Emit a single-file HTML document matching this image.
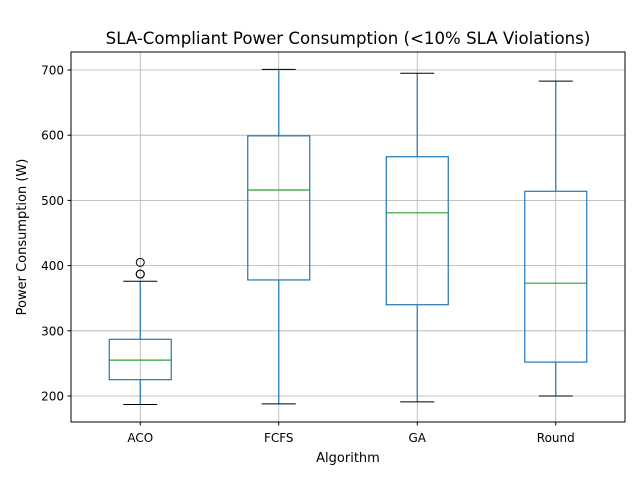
<!DOCTYPE html>
<html><head><meta charset="utf-8"><style>
body{margin:0;background:#fff;}
svg text{font-family:"DejaVu Sans","Liberation Sans",sans-serif;}
</style></head><body>
<svg id="chart" width="640" height="480" xmlns="http://www.w3.org/2000/svg">
<rect width="640" height="480" fill="#fff"/>
<text x="348" y="44" font-size="16.6" text-anchor="middle">SLA-Compliant Power Consumption (&lt;10% SLA Violations)</text>
<g id="grid"></g>
<g id="boxes"></g>
<rect x="71" y="52" width="554" height="370" fill="none" stroke="#000" stroke-width="1"/>
<g id="axes"></g>
<text x="348" y="462" font-size="13" text-anchor="middle">Algorithm</text>
<text transform="translate(26,237) rotate(-90)" font-size="13" text-anchor="middle">Power Consumption (W)</text>
</svg>
<script>
const categories=["ACO","FCFS","GA","Round"];
const whiskerLow=[187,188,191,200];
const q1=[225,378,340,252];
const median=[255,516,481,373];
const q3=[287,599,567,514];
const whiskerHigh=[376,701,695,683];
const outliers=[[387,387,405],[],[],[]];
const yTicks=[200,300,400,500,600,700];

const NS="http://www.w3.org/2000/svg";
const L=71,R=625,T=52,B=422;
function y(v){return 396-(v-200)*0.652;}
function x(i){return L+(R-L)*(i+0.5)/categories.length;}
function mk(tag,attrs,parent){const e=document.createElementNS(NS,tag);for(const k in attrs)e.setAttribute(k,attrs[k]);parent.appendChild(e);return e;}
const grid=document.getElementById('grid'),boxes=document.getElementById('boxes'),axes=document.getElementById('axes');
yTicks.forEach(t=>{
  const g=mk('line',{x1:L,x2:R,y1:y(t),y2:y(t),stroke:'#b0b0b0','stroke-width':0.8},grid);
  
  
  mk('line',{x1:L-3.5,x2:L,y1:y(t),y2:y(t),stroke:'#000'},axes);
  const tx=mk('text',{x:L-7,y:y(t)+4.5,'font-size':12,'text-anchor':'end'},axes);
  tx.textContent=t;
  
  
});
categories.forEach((c,i)=>{
  const cx=x(i);
  const g=mk('line',{x1:cx,x2:cx,y1:T,y2:B,stroke:'#b0b0b0','stroke-width':0.8},grid);
  
  
  mk('line',{x1:cx,x2:cx,y1:B,y2:B+3.5,stroke:'#000'},axes);
  const tx=mk('text',{x:cx,y:B+20,'font-size':12,'text-anchor':'middle'},axes);
  tx.textContent=c;
  
  
  const grp=mk('g',{},boxes);
  
  
  const w=31,cw=17,col='#1f77b4';
  mk('line',{x1:cx,x2:cx,y1:y(q1[i]),y2:y(whiskerLow[i]),stroke:col,'stroke-width':1.2},grp);
  mk('line',{x1:cx,x2:cx,y1:y(q3[i]),y2:y(whiskerHigh[i]),stroke:col,'stroke-width':1.2},grp);
  mk('line',{x1:cx-cw,x2:cx+cw,y1:y(whiskerLow[i]),y2:y(whiskerLow[i]),stroke:'#000'},grp);
  mk('line',{x1:cx-cw,x2:cx+cw,y1:y(whiskerHigh[i]),y2:y(whiskerHigh[i]),stroke:'#000'},grp);
  mk('rect',{x:cx-w,y:y(q3[i]),width:2*w,height:y(q1[i])-y(q3[i]),fill:'none',stroke:col,'stroke-width':1.2},grp);
  mk('line',{x1:cx-w,x2:cx+w,y1:y(median[i]),y2:y(median[i]),stroke:'#2ca02c','stroke-width':1.2},grp);
  outliers[i].forEach(o=>{
    const c2=mk('circle',{cx:cx,cy:y(o),r:4,fill:'none',stroke:'#000'},grp);
    
    
  });
});
</script>
</body></html>
